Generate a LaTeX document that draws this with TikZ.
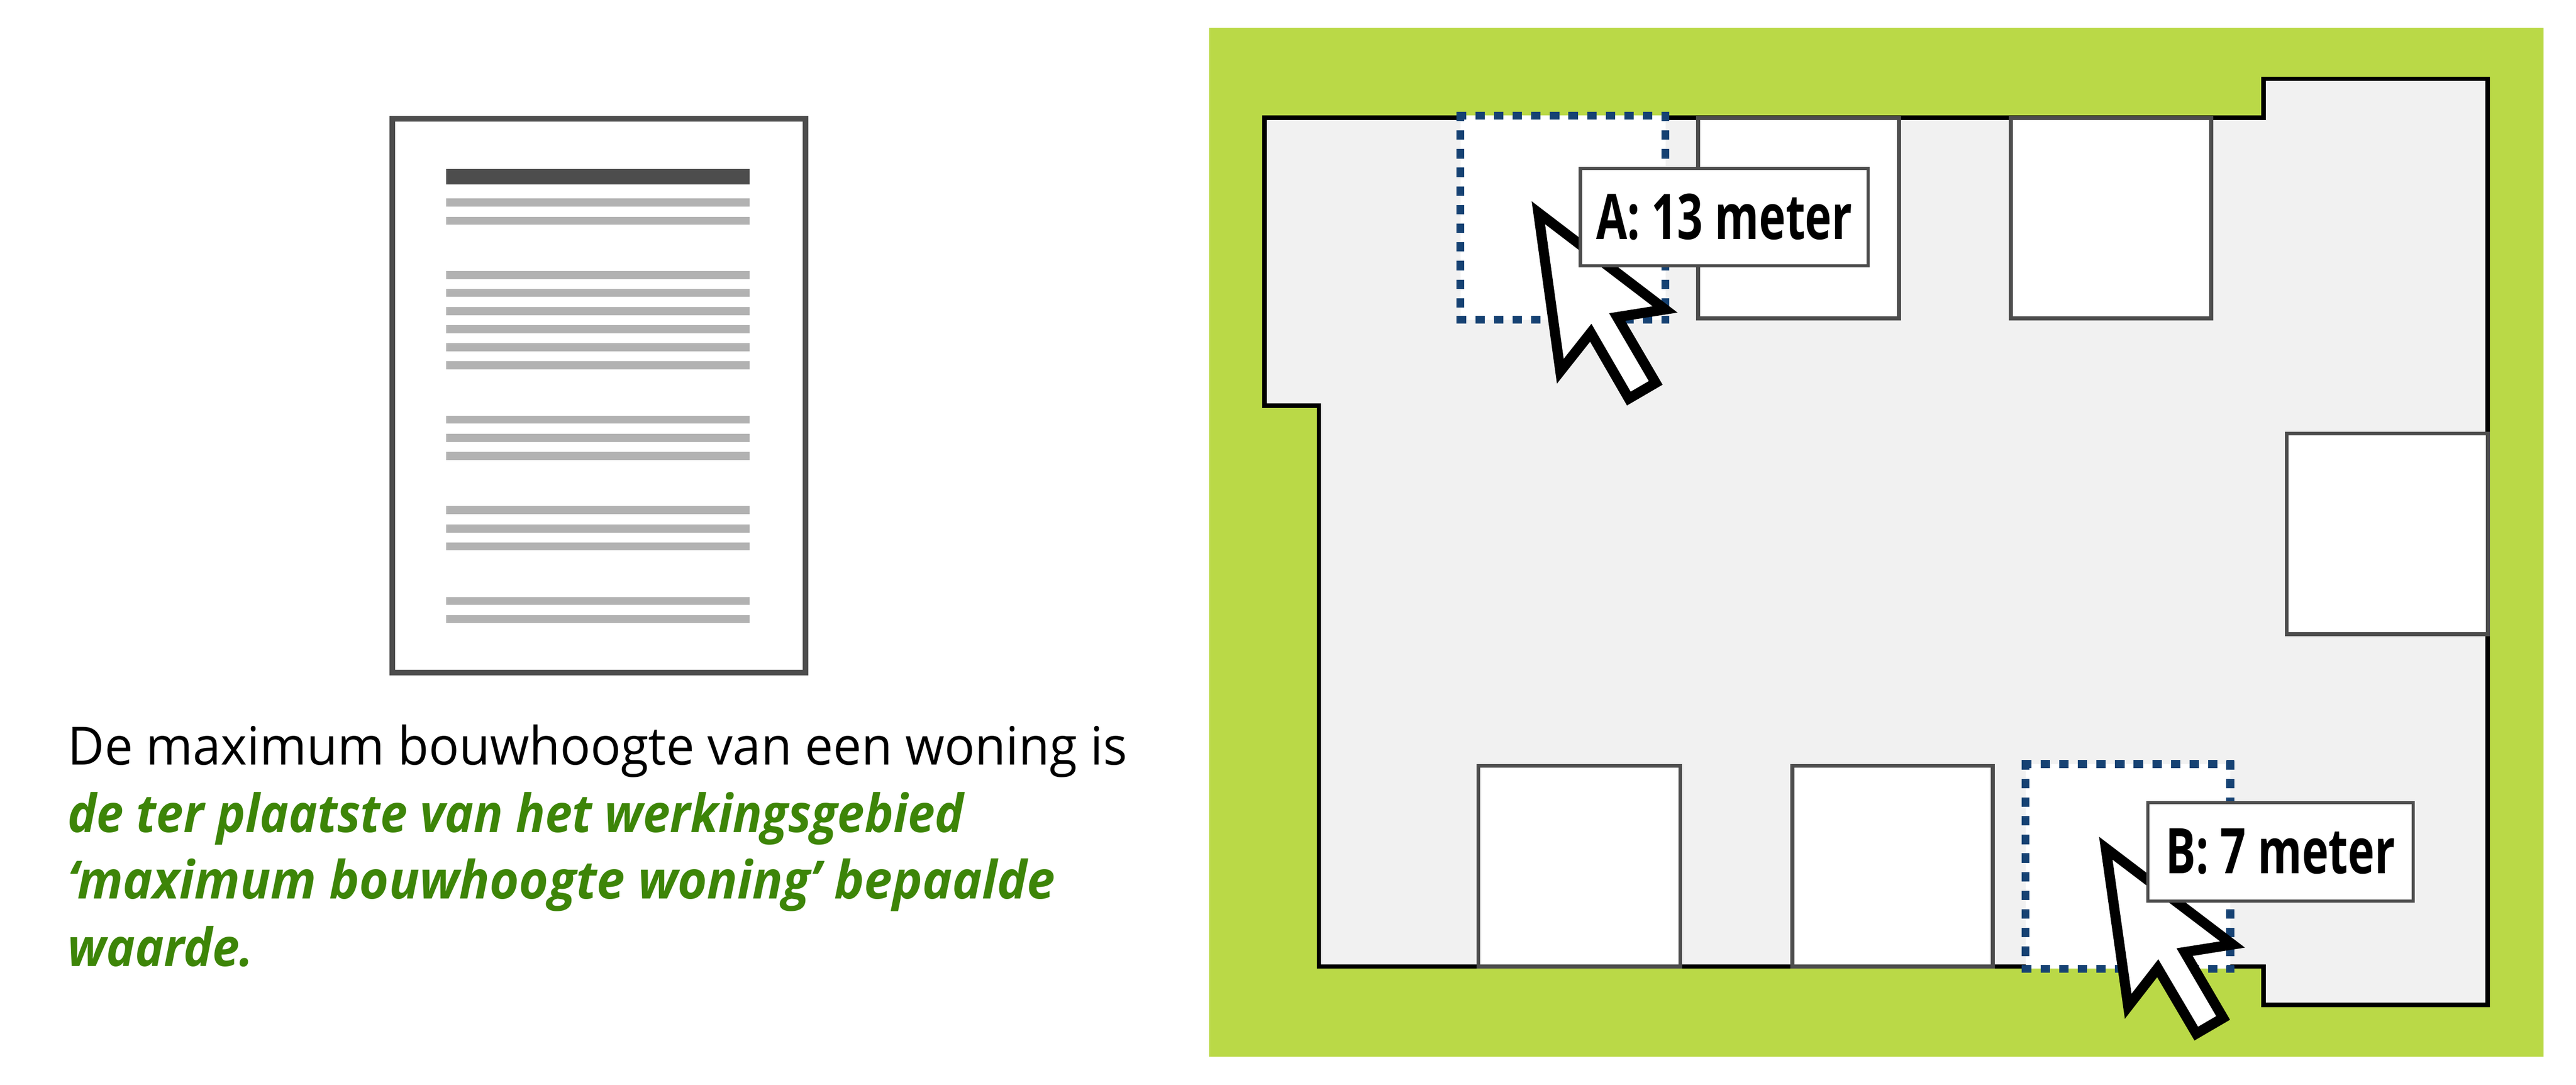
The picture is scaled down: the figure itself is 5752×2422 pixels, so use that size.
\documentclass[tikz,border=0pt]{standalone}
\usepackage{fontspec}
\setmainfont{Open Sans}
\newfontfamily\bodyfont[FakeStretch=0.955]{Open Sans}
\newfontfamily\greenfont[FakeStretch=0.921]{Open Sans}
\newfontfamily\greenwidefont[FakeStretch=0.956]{Open Sans}
\newfontfamily\labelfont[FakeStretch=0.715]{Open Sans}
\definecolor{plangreen}{HTML}{BAD947}
\definecolor{planfloor}{HTML}{F1F1F1}
\definecolor{plangray}{HTML}{4D4D4D}
\definecolor{barlight}{HTML}{B2B2B2}
\definecolor{dotblue}{HTML}{164273}
\definecolor{textgreen}{HTML}{3D8508}
\tikzset{
  lotline/.style={draw=black,fill=planfloor,line width=0.1cm,miter limit=10},
  housebox/.style={draw=plangray,fill=white,line width=0.09cm},
  dotline/.style={draw=dotblue,line width=0.175cm,dash pattern=on 0.21cm off 0.206cm},
  cursorline/.style={draw=black,fill=white,line width=0.225cm,miter limit=20},
  valuebox/.style={draw=plangray,fill=white,line width=0.07cm,inner sep=0pt,text height=0.98cm,text depth=0pt,
    font=\labelfont\fontsize{40}{40}\selectfont\bfseries},
  bodyline/.style={anchor=base west,inner sep=0pt,font=\bodyfont\fontsize{33.5}{40}\selectfont},
  greenline/.style={anchor=base west,inner sep=0pt,text=textgreen,font=\greenfont\fontsize{33.5}{40}\selectfont\bfseries\itshape},
  greenwide/.style={greenline,font=\greenwidefont\fontsize{33.5}{40}\selectfont\bfseries\itshape},
}
\begin{document}
\begin{tikzpicture}[x=0.01cm,y=-0.01cm]
\useasboundingbox (0,0) rectangle (5752,2422);
\draw[draw=plangray,line width=0.13cm,fill=white] (876,265) rectangle (1799,1502);
\fill[plangray] (996,377) rectangle (1674,412);
\foreach \y in {452,493,614,654,695,735,775,816,937,978,1018,1139,1180,1220,1342,1382}
  \fill[barlight] (996,\y-9) rectangle (1674,\y+9);
\node[bodyline] (line1) at (151,1708) {De maximum bouwhoogte van een woning is};
\node[greenline] (line2) at (151,1858) {de ter plaatste van het werkingsgebied};
\node[greenwide] (line3) at (151,2007) {‘maximum bouwhoogte woning’ bepaalde};
\node[greenline] (line4) at (151,2158) {waarde.};
\fill[plangreen] (2700,62) rectangle (5680,2359);
\draw[lotline] (2824,263) -- (5054,263) -- (5054,176) -- (5555,176) -- (5555,2244) -- (5054,2244)
  -- (5054,2158) -- (2945,2158) -- (2945,906) -- (2824,906) -- cycle;
\draw[housebox] (3792,263) rectangle (4240,711);
\draw[housebox] (4490,263) rectangle (4937,711);
\draw[housebox] (5106,968) rectangle (5555,1416);
\draw[housebox] (3301,1710) rectangle (3752,2158);
\draw[housebox] (4002,1710) rectangle (4450,2158);
\fill[white] (3261,258) rectangle (3719,714);
\fill[white] (4523,1706) rectangle (4980,2163);
\foreach \xa/\xb/\ya/\yb in {3261/3719/258/714,4523/4980/1706/2163} {
  \draw[dotline] (\xa-8.5,\ya) -- (\xb+8.5,\ya);
  \draw[dotline] (\xa-8.5,\yb) -- (\xb+8.5,\yb);
  \draw[dotline] (\xa,\ya-8.5) -- (\xa,\yb+8.5);
  \draw[dotline] (\xb,\ya-8.5) -- (\xb,\yb+8.5);
}
\draw[cursorline] (3435,475) -- (3718,691) -- (3611,708) -- (3697,855) -- (3637,890) -- (3552,743) -- (3484,829) -- cycle;
\draw[cursorline] (4702,1894) -- (4985,2109) -- (4878,2126) -- (4964,2273) -- (4904,2308) -- (4818,2162) -- (4752,2247) -- cycle;
\node[valuebox,minimum width=6.42cm,minimum height=2.18cm] (valueA) at (3850,485) {A: 13 meter};
\node[valuebox,minimum width=5.92cm,minimum height=2.2cm] (valueB) at (5092,1902) {B: 7 meter};
\end{tikzpicture}
\end{document}
